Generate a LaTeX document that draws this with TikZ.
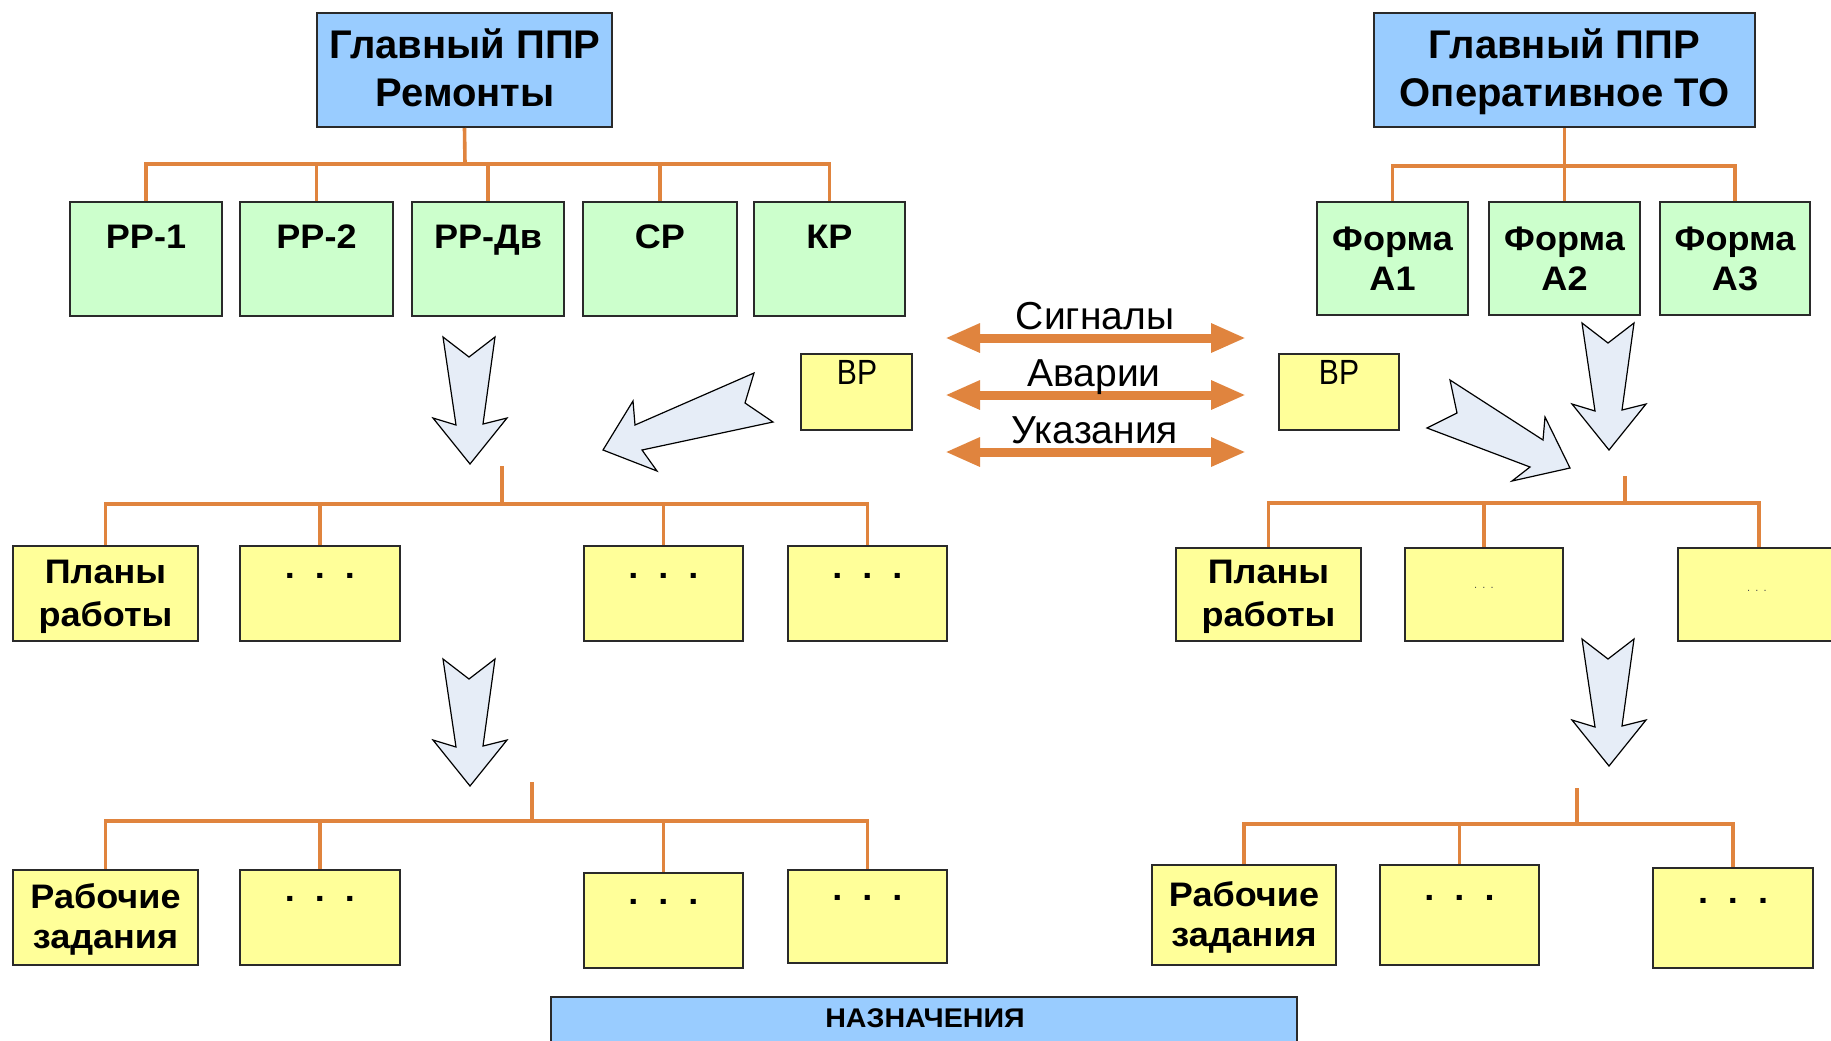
\documentclass[tikz,border=0pt]{standalone}
\usepackage{fontspec}
\setmainfont{Liberation Sans}
\newfontfamily\fbold{Liberation Sans}[FakeStretch=1.06]
\newfontfamily\fplain{Liberation Sans}
\newfontfamily\fnarrow{Liberation Sans}[FakeStretch=0.86]
\usetikzlibrary{arrows.meta,fit}
\definecolor{cblue}{HTML}{99CCFF}
\definecolor{cgreen}{HTML}{CCFFCC}
\definecolor{cyellow}{HTML}{FFFF99}
\definecolor{corange}{HTML}{E0843E}
\definecolor{carrow}{HTML}{E6EDF7}
\definecolor{cborder}{HTML}{2A2A2A}
\tikzset{
  box/.style={draw=cborder, line width=1pt, inner sep=0pt},
  bbox/.style={box, fill=cblue},
  gbox/.style={box, fill=cgreen},
  ybox/.style={box, fill=cyellow},
  conn/.style={draw=corange, line width=1.8pt},
  blk/.style={draw=black, fill=carrow, line width=0.6pt, line join=miter},
  bidir/.style={draw=corange, line width=4.5pt,
    {Triangle[length=17.5pt,width=13.5pt]}-{Triangle[length=17.5pt,width=13.5pt]}},
  txt/.style={inner sep=0pt, anchor=base},
  ttl/.style={txt, font=\fplain\bfseries\fontsize{20}{24}\selectfont},
  lbl/.style={txt, font=\fbold\bfseries\fontsize{17}{20}\selectfont},
  sig/.style={txt, font=\fplain\fontsize{19.5}{23}\selectfont},
  vrt/.style={txt, font=\fnarrow\fontsize{17.5}{20}\selectfont},
  nzt/.style={txt, font=\fbold\bfseries\fontsize{13.5}{16}\selectfont},
  tiny/.style={txt, font=\fplain\fontsize{5.5}{7}\selectfont, text=black!70},
  blockdown/.pic={\draw[blk] (-26,0) -- (0,20) -- (26,0) -- (14,87) -- (38,81)
     -- (1,127) -- (-36,81) -- (-13,88) -- cycle;}
}
\newcommand{\threedots}{.\hspace{10pt}.\hspace{10pt}.}
\newcommand{\tinydots}{.\hspace{2.6pt}.\hspace{2.6pt}.}
\begin{document}
\begin{tikzpicture}[x=0.5pt,y=-0.5pt]
\useasboundingbox (0,0) rectangle (1831,1040);
\fill[white] (0,0) rectangle (1831,1040);

% ---------- left tree ----------
\node[bbox, fit={(317,13) (612,127)}] (tl) {};
\node[ttl] (tl1) at (465,58) {Главный ППР};
\node[ttl] (tl2) at (465,106) {Ремонты};

\node[gbox, fit={(70,202) (222,316)}] (g1) {};
\node[gbox, fit={(240,202) (393,316)}] (g2) {};
\node[gbox, fit={(412,202) (564,316)}] (g3) {};
\node[gbox, fit={(583,202) (737,316)}] (g4) {};
\node[gbox, fit={(754,202) (905,316)}] (g5) {};
\node[lbl] (g1t) at (g1.center |- 0,248) {РР-1};
\node[lbl] (g2t) at (g2.center |- 0,248) {РР-2};
\node[lbl] (g3t) at (g3.center |- 0,248) {РР-Дв};
\node[lbl] (g4t) at (g4.center |- 0,248) {СР};
\node[lbl] (g5t) at (g5.center |- 0,248) {КР};

\coordinate (bL0) at (465,164);
\draw[conn] (tl.south) -- (bL0);
\foreach \n in {g1,g2,g3,g4,g5} \draw[conn] (bL0) -| (\n.north);

\node[ybox, fit={(13,546) (198,641)}] (a1) {};
\node[ybox, fit={(240,546) (400,641)}] (a2) {};
\node[ybox, fit={(584,546) (743,641)}] (a3) {};
\node[ybox, fit={(788,546) (947,641)}] (a4) {};
\node[lbl] (a1t) at (a1.center |- 0,583) {Планы};
\node[lbl] (a1u) at (a1.center |- 0,626) {работы};
\node[lbl] (a2t) at (a2.center |- 0,578) {\threedots};
\node[lbl] (a3t) at (a3.center |- 0,578) {\threedots};
\node[lbl] (a4t) at (a4.center |- 0,578) {\threedots};

\coordinate (sL1) at (502,466);
\coordinate (bL1) at (502,504);
\draw[conn] (sL1) -- (bL1);
\foreach \n in {a1,a2,a3,a4} \draw[conn] (bL1) -| (\n.north);

\node[ybox, fit={(13,870) (198,965)}] (b1) {};
\node[ybox, fit={(240,870) (400,965)}] (b2) {};
\node[ybox, fit={(584,873) (743,968)}] (b3) {};
\node[ybox, fit={(788,870) (947,963)}] (b4) {};
\node[lbl] (b1t) at (b1.center |- 0,908) {Рабочие};
\node[lbl] (b1u) at (b1.center |- 0,948) {задания};
\node[lbl] (b2t) at (b2.center |- 0,901) {\threedots};
\node[lbl] (b3t) at (b3.center |- 0,904) {\threedots};
\node[lbl] (b4t) at (b4.center |- 0,900) {\threedots};

\coordinate (sL2) at (532,782);
\coordinate (bL2) at (532,821);
\draw[conn] (sL2) -- (bL2);
\foreach \n in {b1,b2,b3,b4} \draw[conn] (bL2) -| (\n.north);

\pic (arL1) at (469,337) {blockdown};
\pic (arL2) at (469,659) {blockdown};

% diagonal arrow (left)
\draw[blk] (754,373) -- (745,403) -- (773,422) -- (642,450) -- (657,471)
  -- (603,450) -- (633,401) -- (635,425) -- cycle;

% ---------- middle ----------
\node[ybox, fit={(801,354) (912,430)}] (vr1) {};
\node[vrt] (vr1t) at (857,384) {ВР};
\node[ybox, fit={(1279,354) (1399,430)}] (vr2) {};
\node[vrt] (vr2t) at (1339,384) {ВР};

\coordinate (hL1) at (945,338); \coordinate (hR1) at (1246,338);
\coordinate (hL2) at (945,395); \coordinate (hR2) at (1246,395);
\coordinate (hL3) at (945,452); \coordinate (hR3) at (1246,452);
\draw[bidir] (hL1) -- (hR1);
\draw[bidir] (hL2) -- (hR2);
\draw[bidir] (hL3) -- (hR3);
\node[sig] (s1) at (1095,329) {Сигналы};
\node[sig] (s2) at (1094,386) {Аварии};
\node[sig] (s3) at (1095,443) {Указания};

% ---------- right tree ----------
\node[bbox, fit={(1374,13) (1755,127)}] (tr) {};
\node[ttl] (tr1) at (tr.center |- 0,58) {Главный ППР};
\node[ttl] (tr2) at (tr.center |- 0,106) {Оперативное ТО};

\node[gbox, fit={(1317,202) (1468,315)}] (f1) {};
\node[gbox, fit={(1489,202) (1640,315)}] (f2) {};
\node[gbox, fit={(1660,202) (1810,315)}] (f3) {};
\node[lbl] (f1t) at (f1.center |- 0,250) {Форма};
\node[lbl] (f1u) at (f1.center |- 0,290) {А1};
\node[lbl] (f2t) at (f2.center |- 0,250) {Форма};
\node[lbl] (f2u) at (f2.center |- 0,290) {А2};
\node[lbl] (f3t) at (f3.center |- 0,250) {Форма};
\node[lbl] (f3u) at (f3.center |- 0,290) {А3};

\coordinate (bR0) at (tr.south |- 0,166);
\draw[conn] (tr.south) -- (bR0);
\foreach \n in {f1,f2,f3} \draw[conn] (bR0) -| (\n.north);

\node[ybox, fit={(1176,548) (1361,641)}] (c1) {};
\node[ybox, fit={(1405,548) (1563,641)}] (c2) {};
\node[ybox, fit={(1678,548) (1840,641)}] (c3) {};
\node[lbl] (c1t) at (c1.center |- 0,583) {Планы};
\node[lbl] (c1u) at (c1.center |- 0,626) {работы};
\node[tiny] (c2t) at (c2.center |- 0,588) {\tinydots};
\node[tiny] (c3t) at (1757,591) {\tinydots};

\coordinate (sR1) at (1625,476);
\coordinate (bR1) at (1625,503);
\draw[conn] (sR1) -- (bR1);
\foreach \n in {c1,c2,c3} \draw[conn] (bR1) -| (\n.north);

\node[ybox, fit={(1152,865) (1336,965)}] (d1) {};
\node[ybox, fit={(1380,865) (1539,965)}] (d2) {};
\node[ybox, fit={(1653,868) (1813,968)}] (d3) {};
\node[lbl] (d1t) at (d1.center |- 0,906) {Рабочие};
\node[lbl] (d1u) at (d1.center |- 0,946) {задания};
\node[lbl] (d2t) at (d2.center |- 0,900) {\threedots};
\node[lbl] (d3t) at (d3.center |- 0,903) {\threedots};

\coordinate (sR2) at (1577,788);
\coordinate (bR2) at (1577,824);
\draw[conn] (sR2) -- (bR2);
\foreach \n in {d1,d2,d3} \draw[conn] (bR2) -| (\n.north);

\pic (arR1) at (1608,323) {blockdown};
\pic (arR2) at (1608,639) {blockdown};

% diagonal arrow (right)
\draw[blk] (1450,380) -- (1457,413) -- (1427,428) -- (1530,467) -- (1512,481)
  -- (1570,468) -- (1545,417) -- (1543,440) -- cycle;

% ---------- bottom ----------
\node[bbox, fit={(551,997) (1297,1060)}] (nz) {};
\node[nzt] (nzt) at (925,1027) {НАЗНАЧЕНИЯ};
\end{tikzpicture}
\end{document}
